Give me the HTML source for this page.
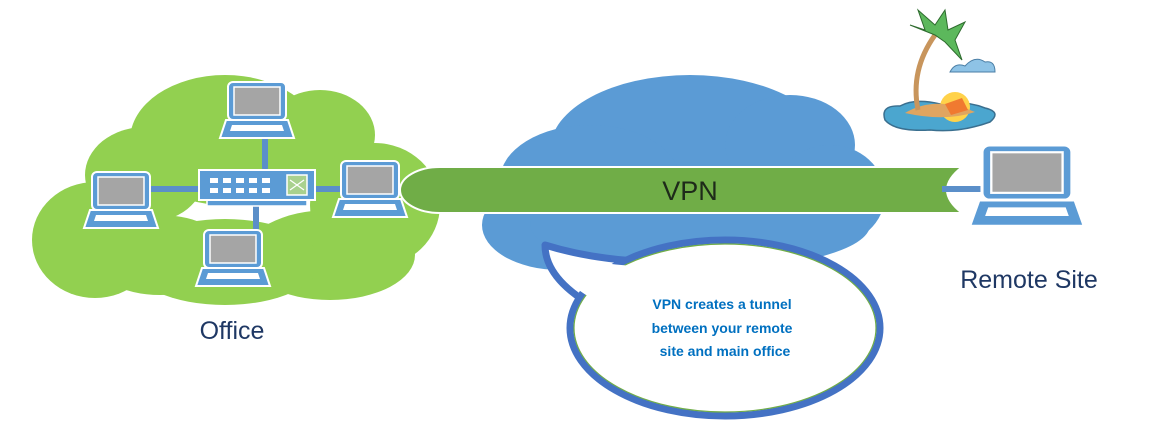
<!DOCTYPE html>
<html><head><meta charset="utf-8"><style>
html,body{margin:0;padding:0;background:#fff;width:1152px;height:447px;overflow:hidden}
svg{display:block}
</style></head><body>
<svg width="1152" height="447" viewBox="0 0 1152 447" xmlns="http://www.w3.org/2000/svg">
<defs>
<g id="lap">
 <rect x="0" y="0" width="58" height="38" rx="5" fill="#5b9bd5" stroke="#fff" stroke-width="2"/>
 <rect x="6" y="5" width="46" height="28" fill="#a5a5a5" stroke="#fff" stroke-width="1.5"/>
 <path d="M-2,38 L60,38 L66,56 L-8,56 Z" fill="#5b9bd5" stroke="#fff" stroke-width="2"/>
 <path d="M4,43 L54,43 L56,49 L2,49 Z" fill="#fff"/>
</g>
</defs>
<g fill="#92d050">
 <ellipse cx="95" cy="240" rx="63" ry="58"/>
 <ellipse cx="145" cy="175" rx="60" ry="48"/>
 <ellipse cx="225" cy="140" rx="95" ry="65"/>
 <ellipse cx="320" cy="135" rx="55" ry="45"/>
 <ellipse cx="375" cy="205" rx="65" ry="62"/>
 <ellipse cx="330" cy="255" rx="85" ry="45"/>
 <ellipse cx="225" cy="262" rx="95" ry="43"/>
 <ellipse cx="160" cy="255" rx="70" ry="40"/>
</g>
<g fill="#5b9bd5">
 <ellipse cx="690" cy="150" rx="140" ry="75"/>
 <ellipse cx="790" cy="145" rx="65" ry="50"/>
 <ellipse cx="830" cy="195" rx="55" ry="50"/>
 <ellipse cx="590" cy="180" rx="90" ry="55"/>
 <ellipse cx="560" cy="225" rx="78" ry="45"/>
 <ellipse cx="700" cy="225" rx="170" ry="45"/>
</g>
<path d="M440,167 L962,167 Q932,190 962,213 L440,213 A40,23 0 0 1 440,167 Z" fill="#70ad47" stroke="#fff" stroke-width="2"/>
<text x="690" y="200" font-family="Liberation Sans, sans-serif" font-size="27" fill="#1e2a1a" text-anchor="middle">VPN</text>
<g stroke="#5b8fc9" stroke-width="6" stroke-linecap="round">
 <line x1="265" y1="130" x2="265" y2="168"/>
 <line x1="142" y1="189" x2="205" y2="189"/>
 <line x1="312" y1="189" x2="348" y2="189"/>
 <line x1="256" y1="205" x2="256" y2="236"/>
 <line x1="942" y1="189" x2="985" y2="189" stroke-linecap="butt"/>
</g>
<rect x="207" y="196" width="100" height="10" fill="#5b9bd5" stroke="#fff" stroke-width="1.5"/>
<rect x="199" y="170" width="116" height="30" fill="#5b9bd5" stroke="#fff" stroke-width="2"/>
<g fill="#fff">
 <rect x="210" y="178" width="8" height="5"/><rect x="223" y="178" width="8" height="5"/><rect x="236" y="178" width="8" height="5"/><rect x="249" y="178" width="8" height="5"/><rect x="262" y="178" width="8" height="5"/>
 <rect x="210" y="188" width="8" height="5"/><rect x="223" y="188" width="8" height="5"/><rect x="236" y="188" width="8" height="5"/><rect x="249" y="188" width="8" height="5"/><rect x="262" y="188" width="8" height="5"/>
</g>
<rect x="287" y="175" width="20" height="20" fill="#a9d18e" stroke="#fff" stroke-width="1.5"/>
<path d="M290,180 L304,190 M290,190 L304,180" stroke="#fff" stroke-width="1.2"/>
<use href="#lap" x="228" y="82"/>
<use href="#lap" x="92" y="172"/>
<use href="#lap" x="341" y="161"/>
<use href="#lap" x="204" y="230"/>
<g transform="translate(982,145) scale(1.55,1.45)"><use href="#lap"/></g>
<g>
 <path d="M885,120 Q880,105 900,106 Q915,98 940,104 Q965,100 985,108 Q1002,112 990,122 Q960,133 930,130 Q895,132 885,120 Z" fill="#4ba6cf" stroke="#3a6f8f" stroke-width="1.5"/>
 <circle cx="955" cy="107" r="15" fill="#ffd24a"/>
 <path d="M905,113 Q935,95 975,112 Q945,122 905,113 Z" fill="#e0a560"/>
 <path d="M945,104 L962,98 L968,110 L951,115 Z" fill="#f07a30"/>
 <path d="M918,110 Q910,70 935,35" stroke="#c8955c" stroke-width="5" fill="none"/>
 <path d="M935,35 L910,25 L925,30 L918,10 L935,25 L945,10 L948,30 L965,22 L955,40 L962,60 L945,42 Z" fill="#5cb85c" stroke="#2e6b2e" stroke-width="1"/>
 <path d="M950,72 Q955,62 965,66 Q975,55 985,62 Q995,60 995,72 Z" fill="#8ec3e6" stroke="#4a7ea5" stroke-width="1"/>
</g>
<path d="M668,262 Q600,262 545,245 Q545,282 604,312" fill="#fff" stroke="#4472c4" stroke-width="7" stroke-linejoin="round"/>
<ellipse cx="725" cy="328" rx="155" ry="88" fill="#fff" stroke="#4472c4" stroke-width="7"/>
<ellipse cx="725" cy="328" rx="151" ry="84" fill="none" stroke="#70ad47" stroke-width="1.2"/>
<path d="M668,267 Q600,267 553,252 Q556,282 606,306 L660,300 Z" fill="#fff"/>
<g font-family="Liberation Sans, sans-serif" font-size="14" font-weight="bold" fill="#0070c0" text-anchor="middle">
 <text x="722" y="309">VPN creates a tunnel</text>
 <text x="722" y="333">between your remote</text>
 <text x="725" y="356">site and main office</text>
</g>
<g font-family="Liberation Sans, sans-serif" font-size="25" fill="#1f3864">
 <text x="232" y="339" text-anchor="middle">Office</text>
 <text x="1029" y="288" text-anchor="middle">Remote Site</text>
</g>
</svg>
</body></html>
